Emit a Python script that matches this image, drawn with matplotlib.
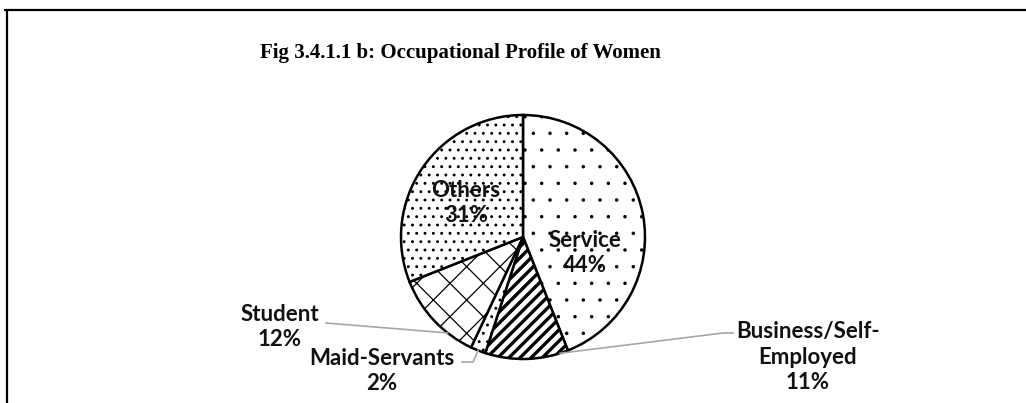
import numpy as np
import matplotlib
matplotlib.use('Agg')
import matplotlib.pyplot as plt
from matplotlib.lines import Line2D

# data
labels = ['Service', 'Business/Self-\nEmployed', 'Maid-Servants', 'Student', 'Others']
shares = [44, 11, 2, 12, 31]
hatches = ['.', '///', '..', 'x', '..']
title = 'Fig 3.4.1.1 b: Occupational Profile of Women'

W, H = 1026, 403
fig = plt.figure(figsize=(W / 100, H / 100), dpi=100)
ax = fig.add_axes([0, 0, 1, 1])

cx, cy, r = 523, H - 237, 122
wedges, _ = ax.pie(shares, startangle=90, counterclock=False, center=(cx, cy),
                   radius=r,
                   wedgeprops=dict(facecolor='white', edgecolor='black', linewidth=1.8))
ax.set_xlim(0, W)
ax.set_ylim(0, H)
ax.set_aspect('equal')
ax.axis('off')
for w, h in zip(wedges, hatches):
    w.set_hatch(h)
    try:
        if h == '///':
            w.set_hatch_linewidth(2.4)
        elif h == '.':
            w.set_hatch_linewidth(0.1)
        else:
            w.set_hatch_linewidth(0.9)
    except AttributeError:
        pass

# frame (only top and left edges visible in the crop), in figure fractions
fig.add_artist(Line2D([4 / W, 1.0], [1 - 10 / H, 1 - 10 / H], color='black', lw=1.6,
                      solid_capstyle='butt'))
fig.add_artist(Line2D([7 / W, 7 / W], [0.0, 1 - 10 / H], color='black', lw=1.6,
                      solid_capstyle='butt'))

font = dict(family='Lato', weight='bold', fontsize=16, color='#111111',
            ha='center', va='center', linespacing=1.25)

def lab(i):
    return '{}\n{}%'.format(labels[i], shares[i])

def edge(frac):
    ang = np.deg2rad(90 - 360 * frac)
    return cx + r * np.cos(ang), cy + r * np.sin(ang)

cum = np.cumsum([0] + shares) / sum(shares)
lead = dict(color='#a6a6a6', lw=1.2)

# inside labels
ax.text(585, H - 253, lab(0), **font)
ax.text(466, H - 203, lab(4), **font)

# outside labels with leader lines
ax.text(280, H - 327, lab(3), **font)
x1, y1 = edge(cum[3] + 0.3 * shares[3] / 100)
ax.plot([326, x1], [H - 323, y1], **lead)

ax.text(382, H - 371, lab(2), **font)
x2, y2 = edge(cum[2] + 0.5 * shares[2] / 100)
ax.plot([462, 473, x2], [H - 362, H - 362, y2], **lead)

ax.text(808, H - 357, lab(1), **font)
x3, y3 = edge(cum[1] + 0.1 * shares[1] / 100)
ax.plot([733, 723, x3], [H - 333, H - 333, y3], **lead)

ax.text(460, H - 53, title, ha='center', va='center', family='Liberation Serif',
        weight='bold', fontsize=15)

fig.savefig('out.png', dpi=100)
